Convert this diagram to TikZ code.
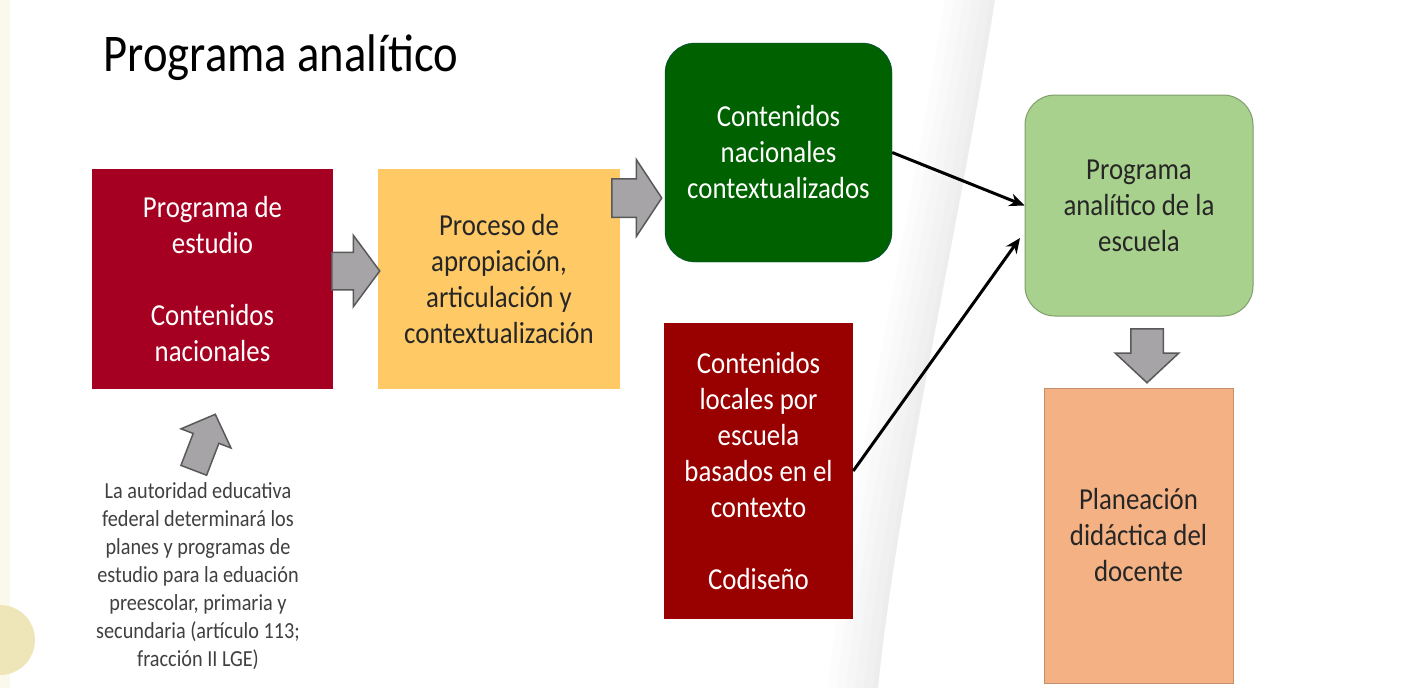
\documentclass[tikz,border=0pt]{standalone}
\usepackage{fontspec}
\setmainfont[FakeStretch=0.88]{Carlito}
\usetikzlibrary{shapes.arrows,arrows.meta}

\definecolor{rojo}{HTML}{A50021}
\definecolor{rojoosc}{HTML}{990000}
\definecolor{amarillo}{HTML}{FFC966}
\definecolor{verdeosc}{HTML}{006100}
\definecolor{verdecl}{HTML}{A9D18E}
\definecolor{naranja}{HTML}{F4B183}
\definecolor{gris}{HTML}{A6A4A6}
\definecolor{grisborde}{HTML}{595959}
\definecolor{crema}{HTML}{FBF8EC}
\definecolor{circulo}{HTML}{EEE6B8}

\begin{document}
\begin{tikzpicture}[x=1pt,y=-1pt,
  box/.style={rectangle,inner sep=0pt,align=center,font=\fontsize{30.5}{36}\selectfont},
  round box/.style={box,rounded corners=30pt},
  block arrow/.style={single arrow,anchor=tail,draw=grisborde,fill=gris,line width=1.5pt,inner sep=0pt},
  line arrow/.style={-{Stealth[length=15pt,width=13pt]},line width=3pt}]

  \useasboundingbox (0,0) rectangle (1407,688);
  \fill[white] (0,0) rectangle (1407,688);
  % slide background
  \fill[crema] (0,0) rectangle (10,688);
  \fill[circulo] (0,640) circle (35);
  \foreach \i in {0,...,5}
    \fill[black,opacity=0.012] (945+\i*9,0) .. controls (905+\i*9,250) and (850+\i*9,480) .. (828+\i*9,688)
      -- (878,688) .. controls (900,480) and (955,250) .. (995,0) -- cycle;

  \node[anchor=west,font=\fontsize{53}{60}\selectfont] (t) at (100,58) {Programa analítico};

  \node[box,fill=rojo,text=white,minimum width=241,minimum height=220] (1) at (212.5,279)
    {Programa de\\estudio\\[36pt]Contenidos\\nacionales};
  \node[box,fill=amarillo,text=black!85,minimum width=242,minimum height=220] (2) at (499,279)
    {Proceso de\\apropiación,\\articulación y\\contextualización};
  \node[round box,fill=verdeosc,draw=verdeosc!70!blue,text=white,minimum width=227,minimum height=219] (3) at (778.5,152.5)
    {Contenidos\\nacionales\\contextualizados};
  \node[box,fill=rojoosc,text=white,minimum width=189,minimum height=296] (4) at (758.5,471)
    {Contenidos\\locales por\\escuela\\basados en el\\contexto\\[36pt]Codiseño};
  \node[round box,fill=verdecl,draw=verdecl!75!black,line width=1pt,text=black!85,minimum width=228,minimum height=221] (5) at (1139,205.5)
    {Programa\\analítico de la\\escuela};
  \node[box,fill=naranja,draw=naranja!80!black,line width=1pt,text=black!85,minimum width=189,minimum height=295] (6) at (1138.5,535.5)
    {Planeación\\didáctica del\\docente};

  \node[align=center,text=black!75,font=\fontsize{23}{28}\selectfont] (7) at (198,576)
    {La autoridad educativa\\federal determinará los\\planes y programas de\\estudio para la eduación\\preescolar, primaria y\\secundaria (artículo 113;\\fracción II LGE)};

  % block arrows
  \node[block arrow,minimum height=48,single arrow head extend=17,single arrow tip angle=107] (a1) at (331,271) {\rule{0pt}{36pt}};
  \node[block arrow,minimum height=50,single arrow head extend=19,single arrow tip angle=113] (a2) at (611,198) {\rule{0pt}{37pt}};
  \node[block arrow,minimum height=54,single arrow head extend=15.5,single arrow tip angle=94,rotate=-90] (a3) at (1147,328) {\rule{0pt}{31pt}};
  \node[block arrow,minimum height=60,single arrow head extend=13,single arrow tip angle=92,rotate=69] (a4) at (193.5,471) {\rule{0pt}{26pt}};

  \coordinate (5in) at (1020,238);
  \draw[line arrow] (3.east) -- (5.west);
  \draw[line arrow] (4.east) -- (5in);

\end{tikzpicture}
\end{document}
